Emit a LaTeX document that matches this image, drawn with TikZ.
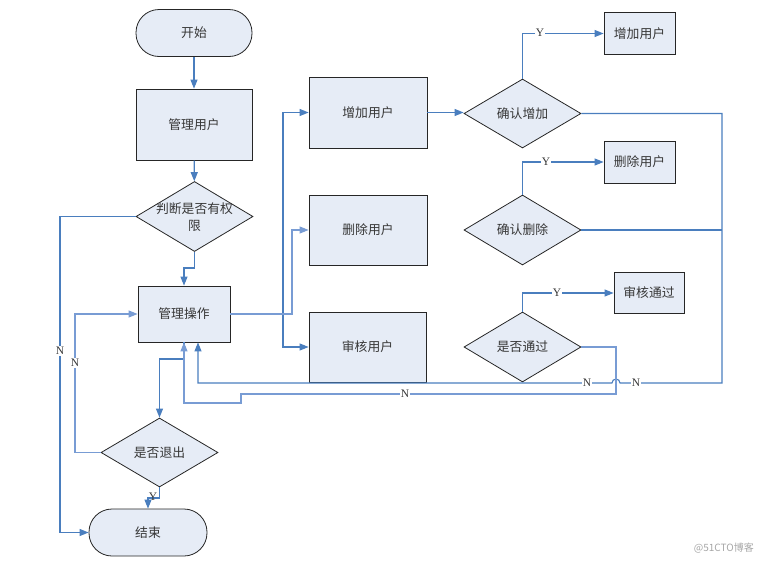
\documentclass[tikz,border=0pt]{standalone}
\usepackage{fontspec}
\setmainfont{Liberation Serif}
\newfontfamily\cjk{Noto Sans CJK SC}
\usetikzlibrary{shapes.geometric,arrows.meta}
\definecolor{boxfill}{RGB}{230,236,246}
\definecolor{lineblue}{RGB}{74,126,190}
\definecolor{lightblue}{RGB}{120,156,212}
\definecolor{txt}{RGB}{55,55,55}
\tikzset{
  cjktext/.style={text=txt, font=\cjk\fontsize{12.8}{17}\selectfont},
  base/.style={draw=black!85, fill=boxfill, line width=0.8pt, cjktext, inner sep=0pt},
  box/.style={base, rectangle},
  term/.style={base, rectangle, rounded corners=23pt},
  dec/.style={base, diamond, align=center},
  arr/.style={draw=lineblue, line width=1.1pt, -{Triangle[length=9pt,width=7pt]}},
  ln/.style={draw=lineblue, line width=1.1pt},
  lbl/.style={fill=white, inner sep=1pt, text=txt, font=\fontsize{11.5}{12}\selectfont},
}
\begin{document}
\begin{tikzpicture}[x=1pt,y=-1pt]
\useasboundingbox (0,0) rectangle (764,565);
% nodes
\node[term, minimum width=116pt, minimum height=47pt] (start) at (194,33) {开始};
\node[box, minimum width=116pt, minimum height=71pt] (mgr) at (194,124.5) {管理用户};
\node[dec, minimum width=117pt, minimum height=70pt] (judge) at (194.5,216.5) {};
\node[cjktext, align=center, inner sep=0pt] (judgetext) at (194.5,217) {判断是否有权\\限};
\node[box, minimum width=92pt, minimum height=56pt] (op) at (184,314) {管理操作};
\node[dec, minimum width=117pt, minimum height=69pt] (quit) at (159.5,452.5) {是否退出};
\node[term, minimum width=118pt, minimum height=47pt] (end) at (148,532.5) {结束};
\node[box, minimum width=118pt, minimum height=71pt] (add) at (368,112.5) {增加用户};
\node[box, minimum width=118pt, minimum height=70pt] (del) at (368,230) {删除用户};
\node[box, minimum width=117pt, minimum height=70pt] (aud) at (367.5,347) {审核用户};
\node[dec, minimum width=117pt, minimum height=69pt] (cadd) at (522.5,113.5) {确认增加};
\node[dec, minimum width=117pt, minimum height=70pt] (cdel) at (522.5,230) {确认删除};
\node[dec, minimum width=117pt, minimum height=70pt] (pass) at (522.5,347) {是否通过};
\node[box, minimum width=71pt, minimum height=42pt] (addr) at (639.5,33.5) {增加用户};
\node[box, minimum width=71pt, minimum height=42pt] (delr) at (639.5,162) {删除用户};
\node[box, minimum width=70pt, minimum height=41pt] (passr) at (649,293) {审核通过};
% connectors
\draw[arr] (start) -- (mgr);
\draw[arr] (mgr) -- (judge);
\draw[arr] (judge.south) -- (194.5,268) -| (op.north);
\draw[arr] (judge.west) -- (60,216.5) |- (end.west);
\draw[arr, draw=lightblue] (quit.west) -- (75,452.5) |- (op.west);
\draw[arr] (quit.south) -- (159.5,498) -| (end.north);
\draw[arr] (op.east) -- (283,314) |- (add.west);
\draw[arr] (op.east) -- (283,314) |- (aud.west);
\draw[arr, draw=lightblue] (op.east) -- (292,314) |- (del.west);
\draw[arr] (add.east) -- (add.east -| cadd.west);
\draw[arr] (cadd.north) |- (addr.west);
\draw[arr] (cdel.north) |- (delr.west);
\draw[arr] (pass.north) |- (passr.west);
\draw[arr] (op.south) -- (184,359) -| (quit.north);
\draw[arr] (cadd.east) -- (722,113.5) -- (722,383) -- (620,383) arc (0:180:4pt) -- (198,383) -- ([xshift=14pt]op.south);
\draw[ln] (cdel.east) -- (722,230);
\draw[arr, draw=lightblue] (pass.east) -- (616,347) -- (616,394) -- (241,394) -- (241,403) -- (184,403) -- (op.south);
% labels
\node[lbl] at (60,351) {N};
\node[lbl] at (75,363) {N};
\node[lbl, fill=none] at (153,497) {Y};
\node[lbl] at (540,33) {Y};
\node[lbl] at (546,162) {Y};
\node[lbl] at (557,293) {Y};
\node[lbl] at (587,383) {N};
\node[lbl] at (636,383) {N};
\node[lbl] at (405,394) {N};
\node[text=black!35, font=\cjk\fontsize{10}{12}\selectfont, anchor=east, inner sep=0pt] at (754,548) {@51CTO博客};
\end{tikzpicture}
\end{document}
